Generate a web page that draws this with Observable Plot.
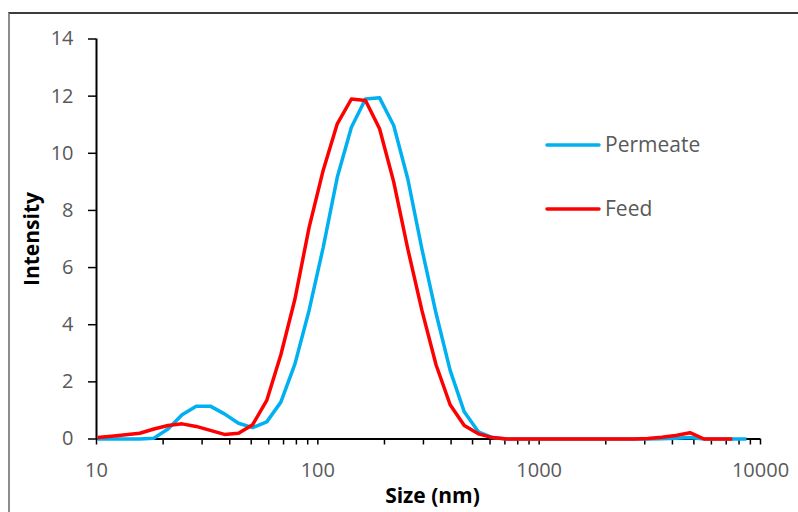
<!DOCTYPE html>
<html>
<head>
<meta charset="utf-8">
<script src="https://cdn.jsdelivr.net/npm/d3@7"></script>
<script src="https://cdn.jsdelivr.net/npm/@observablehq/plot@0.6"></script>
<style>
  html, body { margin: 0; padding: 0; background: #fff; overflow: hidden; }
  #wrap { position: relative; width: 798px; height: 512px; font-family: "Open Sans", sans-serif; }
  #frame { position: absolute; left: 8px; top: 12px; width: 820px; height: 540px;
           border-left: 2px solid #8c8c8c; border-top: 2px solid #3c3c3c; pointer-events: none; }
  #legend { position: absolute; left: 0; top: 0; pointer-events: none; }
</style>
</head>
<body>
<div id="wrap"></div>
<script>
// Malvern size bins (nm)
const sizes = [10.1, 11.7, 13.54, 15.69, 18.17, 21.04, 24.36, 28.21, 32.67, 37.84,
  43.82, 50.75, 58.77, 68.06, 78.82, 91.28, 105.7, 122.4, 141.8, 164.2,
  190.1, 220.2, 255.0, 295.3, 342.0, 396.1, 458.7, 531.2, 615.1, 712.4,
  825.0, 955.4, 1106, 1281, 1484, 1718, 1990, 2305, 2669, 3091,
  3580, 4145, 4801, 5560, 6439, 7456, 8635];

const permeate = [0, 0, 0, 0, 0.03, 0.35, 0.85, 1.15, 1.15, 0.88,
  0.55, 0.4, 0.6, 1.29, 2.63, 4.5, 6.7, 9.16, 10.91, 11.9,
  11.94, 10.97, 9.1, 6.65, 4.4, 2.4, 0.95, 0.25, 0.05, 0,
  0, 0, 0, 0, 0, 0, 0, 0, 0, 0,
  0.01, 0.03, 0.05, 0, 0, 0, 0];

const feed = [0.05, 0.1, 0.15, 0.2, 0.35, 0.47, 0.53, 0.44, 0.3, 0.16,
  0.2, 0.5, 1.35, 2.95, 4.9, 7.4, 9.4, 11.03, 11.9, 11.85,
  10.86, 9.0, 6.65, 4.5, 2.6, 1.2, 0.47, 0.18, 0.05, 0,
  0, 0, 0, 0, 0, 0, 0, 0, 0, 0.02,
  0.06, 0.12, 0.22, 0, 0, 0];

const seriesNames = ["Permeate", "Feed"];
const seriesColors = ["#00B0F0", "#FF0000"];

const xTicks = [10,20,30,40,50,60,70,80,90,100,200,300,400,500,600,700,800,900,
  1000,2000,3000,4000,5000,6000,7000,8000,9000,10000];
const xTickLabels = [10, 100, 1000, 10000];
const yTicks = [0, 2, 4, 6, 8, 10, 12, 14];

const permData = permeate.map((v, i) => ({size: sizes[i], value: v}));
const feedData = feed.map((v, i) => ({size: sizes[i], value: v}));

const chart = Plot.plot({
  width: 798,
  height: 512,
  marginLeft: 96,
  marginRight: 38,
  marginTop: 38.5,
  marginBottom: 73.5,
  style: {fontFamily: "'Open Sans', sans-serif", background: "transparent", color: "black"},
  x: {type: "log", domain: [10, 10000]},
  y: {domain: [0, 14]},
  marks: [
    Plot.axisY({ticks: yTicks, tickSize: 8, tickPadding: 15, fontSize: 20, fill: "#595959",
      stroke: "black", strokeWidth: 1.5, label: null, tickFormat: d => String(d)}),
    Plot.axisX({ticks: xTicks, tickSize: 6, tickPadding: 18, fontSize: 20, fill: "#595959",
      stroke: "black", strokeWidth: 1.5, label: null,
      tickFormat: d => xTickLabels.includes(d) ? String(d) : ""}),
    Plot.ruleX([10], {stroke: "black", strokeWidth: 2}),
    Plot.ruleY([0], {stroke: "black", strokeWidth: 2}),
    Plot.line(permData, {x: "size", y: "value", stroke: seriesColors[0], strokeWidth: 3.5,
      strokeLinejoin: "round", strokeLinecap: "butt"}),
    Plot.line(feedData, {x: "size", y: "value", stroke: seriesColors[1], strokeWidth: 3.5,
      strokeLinejoin: "round", strokeLinecap: "butt"}),
    Plot.text(["Size (nm)"], {frameAnchor: "bottom", textAnchor: "middle", lineAnchor: "middle",
      dy: 57, dx: 4, fontSize: 21, fontWeight: "bold", fill: "black"}),
    Plot.text(["Intensity"], {frameAnchor: "left", textAnchor: "middle", lineAnchor: "middle",
      dx: -64, rotate: -90, fontSize: 21, fontWeight: "bold", fill: "black"})
  ]
});

const wrap = document.getElementById("wrap");
wrap.appendChild(chart);

// legend
const ns = "http://www.w3.org/2000/svg";
const leg = document.createElementNS(ns, "svg");
leg.setAttribute("id", "legend");
leg.setAttribute("width", 798);
leg.setAttribute("height", 512);
const legY = [145, 209];
seriesNames.forEach((name, i) => {
  const ln = document.createElementNS(ns, "line");
  ln.setAttribute("x1", 547); ln.setAttribute("x2", 599);
  ln.setAttribute("y1", legY[i]); ln.setAttribute("y2", legY[i]);
  ln.setAttribute("stroke", seriesColors[i]);
  ln.setAttribute("stroke-width", 3.5);
  ln.setAttribute("stroke-linecap", "round");
  leg.appendChild(ln);
  const tx = document.createElementNS(ns, "text");
  tx.setAttribute("x", 605); tx.setAttribute("y", legY[i]);
  tx.setAttribute("dy", "0.35em");
  tx.setAttribute("fill", "#595959");
  tx.setAttribute("font-size", 21);
  tx.setAttribute("font-family", "'Open Sans', sans-serif");
  tx.textContent = name;
  leg.appendChild(tx);
});
wrap.appendChild(leg);

const frame = document.createElement("div");
frame.id = "frame";
wrap.appendChild(frame);
</script>
</body>
</html>
